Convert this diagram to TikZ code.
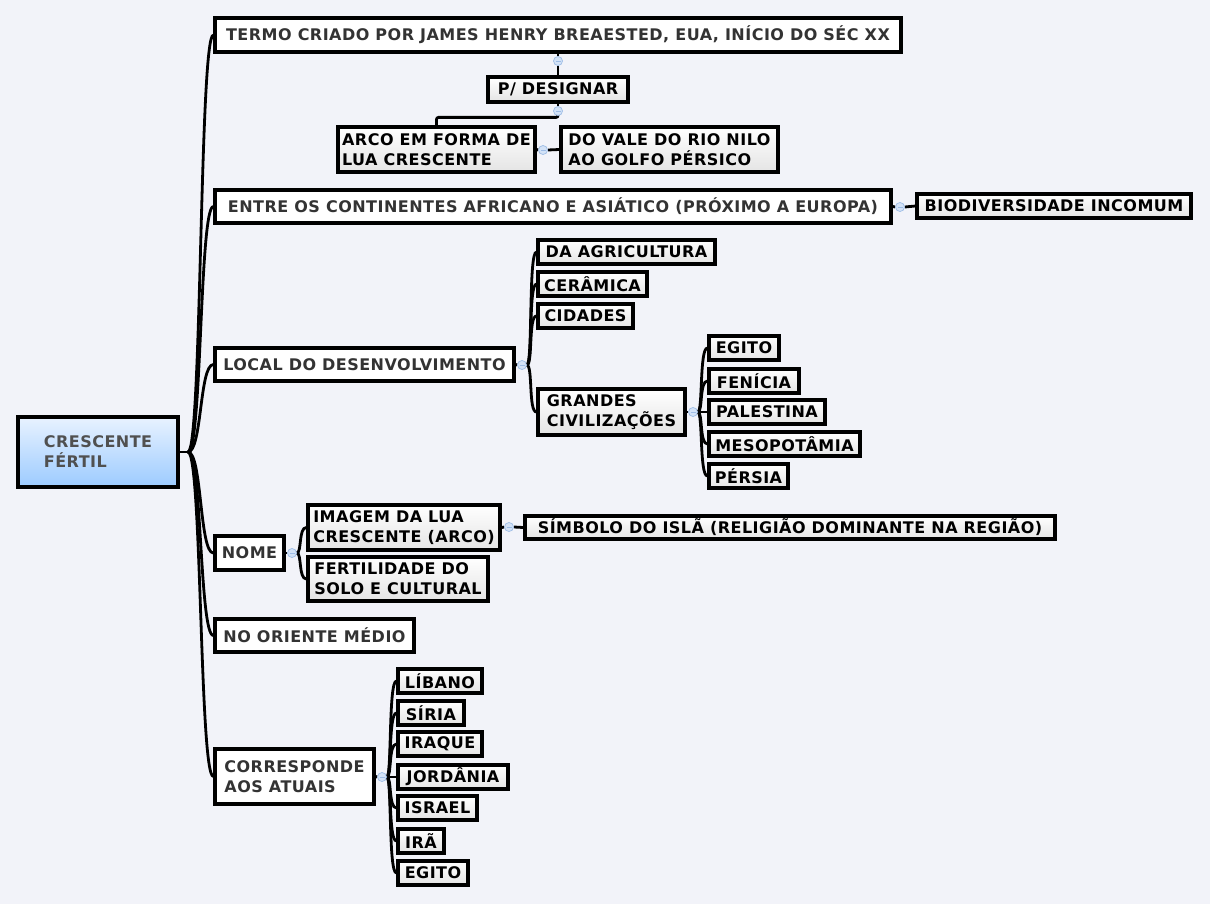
\documentclass[tikz,border=0pt]{standalone}
\usepackage{fontspec}
\setmainfont{DejaVu Sans}[LetterSpace=3]
\definecolor{bg}{HTML}{F2F3F9}
\definecolor{rootA}{HTML}{E8F2FF}
\definecolor{rootB}{HTML}{9CCBFF}
\definecolor{lvtxt}{HTML}{333333}
\definecolor{roottxt}{HTML}{505050}
\definecolor{knobfill}{HTML}{D3E2F7}
\definecolor{knobdraw}{HTML}{9DBCE6}
\definecolor{boxB}{HTML}{E4E4E4}
\pgfdeclarelayer{backlayer}
\pgfdeclarelayer{connlayer}
\pgfsetlayers{backlayer,connlayer,main}
\begin{document}
\begin{tikzpicture}[x=1pt,y=-1pt,
  base/.style={draw=black, line width=3.2pt, align=left,
    font=\bfseries\fontsize{16}{20}\selectfont, inner xsep=3pt, inner ysep=0pt, anchor=center},
  rootbox/.style={base, top color=rootA, bottom color=rootB, text=roottxt},
  mainbox/.style={base, fill=white, text=lvtxt},
  subbox/.style={base, top color=white, bottom color=boxB, text=black},
  conn/.style={line width=2.8pt, black},
  knob/.style={circle, draw=knobdraw, fill=knobfill, line width=0.7pt,
    minimum size=9pt, inner sep=0pt,
    path picture={\draw[knobdraw, line width=0.9pt]
      ([xshift=2pt]path picture bounding box.west) -- ([xshift=-2pt]path picture bounding box.east);}}
]
\useasboundingbox (0,0) rectangle (1210,904);
\begin{pgfonlayer}{backlayer}
\fill[bg] (0,0) rectangle (1210,904);
\end{pgfonlayer}

% root
\node[rootbox, minimum width=160, minimum height=70] (root) at (98,452) {CRESCENTE\\FÉRTIL};

% level 1
\node[mainbox, minimum width=686, minimum height=34] (termo) at (558,35) {TERMO CRIADO POR JAMES HENRY BREAESTED, EUA, INÍCIO DO SÉC XX};
\node[mainbox, minimum width=676, minimum height=33] (entre) at (553,206.5) {ENTRE OS CONTINENTES AFRICANO E ASIÁTICO (PRÓXIMO A EUROPA)};
\node[mainbox, minimum width=299, minimum height=33] (local) at (364.5,364.5) {LOCAL DO DESENVOLVIMENTO};
\node[mainbox, minimum width=69, minimum height=34] (nome) at (249.5,553) {NOME};
\node[mainbox, minimum width=199, minimum height=33] (ori) at (314.5,635.5) {NO ORIENTE MÉDIO};
\node[mainbox, minimum width=159, minimum height=55] (corr) at (294.5,776.5) {CORRESPONDE\\AOS ATUAIS};

% termo branch
\node[subbox, minimum width=140, minimum height=25] (pdes) at (558,89.5) {P/ DESIGNAR};
\node[subbox, minimum width=197, minimum height=45] (arco) at (436.5,149.5) {ARCO EM FORMA DE\\LUA CRESCENTE};
\node[subbox, minimum width=217, minimum height=45] (vale) at (669.5,149.5) {DO VALE DO RIO NILO\\AO GOLFO PÉRSICO};

% entre branch
\node[subbox, minimum width=274, minimum height=24] (bio) at (1054,206) {BIODIVERSIDADE INCOMUM};

% local branch
\node[subbox, minimum width=177, minimum height=24] (agri) at (626.5,252) {DA AGRICULTURA};
\node[subbox, minimum width=109, minimum height=24] (cer) at (592.5,284) {CERÂMICA};
\node[subbox, minimum width=95, minimum height=24] (cid) at (585.5,316) {CIDADES};
\node[subbox, minimum width=147, minimum height=46] (gc) at (611.5,412) {GRANDES\\CIVILIZAÇÕES};
\node[subbox, minimum width=70, minimum height=24] (egA) at (744,348) {EGITO};
\node[subbox, minimum width=90, minimum height=24] (fen) at (754,381) {FENÍCIA};
\node[subbox, minimum width=116, minimum height=24] (pal) at (767,412) {PALESTINA};
\node[subbox, minimum width=151, minimum height=24] (meso) at (784.5,444) {MESOPOTÂMIA};
\node[subbox, minimum width=79, minimum height=24] (per) at (748.5,476) {PÉRSIA};

% nome branch
\node[subbox, minimum width=192, minimum height=45] (img) at (404,527.5) {IMAGEM DA LUA\\CRESCENTE (ARCO)};
\node[subbox, minimum width=180, minimum height=44] (fert) at (398,579) {FERTILIDADE DO\\SOLO E CULTURAL};
\node[subbox, minimum width=530, minimum height=23] (simb) at (790,527.5) {SÍMBOLO DO ISLÃ (RELIGIÃO DOMINANTE NA REGIÃO)};

% corresponde branch
\node[subbox, minimum width=84, minimum height=24] (lib) at (440,681) {LÍBANO};
\node[subbox, minimum width=66, minimum height=24] (sir) at (431,713) {SÍRIA};
\node[subbox, minimum width=84, minimum height=24] (iraq) at (440,744) {IRAQUE};
\node[subbox, minimum width=110, minimum height=24] (jor) at (453,777) {JORDÂNIA};
\node[subbox, minimum width=79, minimum height=24] (isr) at (437.5,808) {ISRAEL};
\node[subbox, minimum width=46, minimum height=24] (ira) at (421,841) {IRÃ};
\node[subbox, minimum width=70, minimum height=24] (egB) at (433,873) {EGITO};

% knobs
\node[knob] (kT) at (558,61) {};
\node[knob] (kP) at (558,111) {};
\node[knob] (kA) at (543,150) {};
\node[knob] (kE) at (900,207) {};
\node[knob] (kL) at (522,365) {};
\node[knob] (kG) at (693,412) {};
\node[knob] (kN) at (292,553) {};
\node[knob] (kI) at (509,527) {};
\node[knob] (kC) at (382,777) {};

\coordinate (hub) at (188,452);

\begin{pgfonlayer}{connlayer}
\draw[conn] (root.east) -- (hub);
\foreach \c in {termo,entre,local,nome,ori,corr}
  \draw[conn] (hub) .. controls +(14,0) and +(-14,0) .. (\c.west);

\draw[conn] (termo.south) -- (kT.north);
\draw[conn] (kT.south) -- (pdes.north);
\draw[conn] (pdes.south) -- (kP.north);
\draw[conn, rounded corners=2pt] (kP.south) |- ([yshift=8pt]arco.north) -- (arco.north);
\draw[conn] (arco.east) -- (kA.west);
\draw[conn] (kA.east) -- (vale.west);

\draw[conn] (entre.east) -- (kE.west);
\draw[conn] (kE.east) -- (bio.west);

\draw[conn] (local.east) -- (kL.west);
\foreach \c in {agri,cer,cid,gc}
  \draw[conn] (kL.east) .. controls +(6,0) and +(-8,0) .. (\c.west);

\draw[conn] (gc.east) -- (kG.west);
\foreach \c in {egA,fen,pal,meso,per}
  \draw[conn] (kG.east) .. controls +(5,0) and +(-8,0) .. (\c.west);

\draw[conn] (nome.east) -- (kN.west);
\foreach \c in {img,fert}
  \draw[conn] (kN.east) .. controls +(5,0) and +(-8,0) .. (\c.west);
\draw[conn] (img.east) -- (kI.west);
\draw[conn] (kI.east) -- (simb.west);

\draw[conn] (corr.east) -- (kC.west);
\foreach \c in {lib,sir,iraq,jor,isr,ira,egB}
  \draw[conn] (kC.east) .. controls +(5,0) and +(-8,0) .. (\c.west);
\end{pgfonlayer}
\end{tikzpicture}
\end{document}
